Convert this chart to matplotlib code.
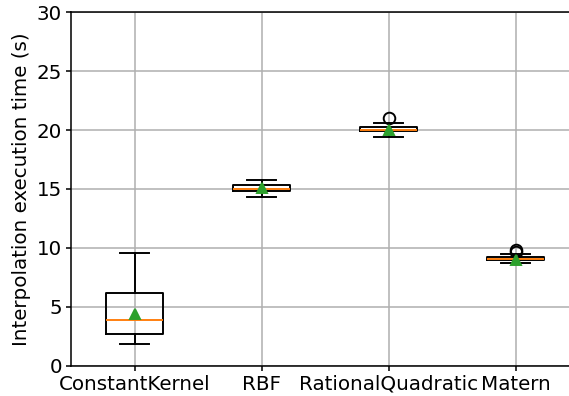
import matplotlib
matplotlib.use("Agg")
import matplotlib.pyplot as plt

# kernels and the box statistics
kernels = ["ConstantKernel", "RBF", "RationalQuadratic", "Matern"]
whislo = [1.83, 14.36, 19.4, 8.72]
q1 = [2.72, 14.86, 19.9, 8.95]
med = [3.92, 15.0, 20.0, 9.05]
q3 = [6.2, 15.36, 20.25, 9.22]
whishi = [9.55, 15.8, 20.6, 9.45]
means = [4.4, 15.1, 20.0, 9.0]
fliers = [[], [], [21.05], [9.78, 9.65]]

stats = []
for i in range(len(kernels)):
    stats.append({
        "label": kernels[i],
        "whislo": whislo[i],
        "q1": q1[i],
        "med": med[i],
        "q3": q3[i],
        "whishi": whishi[i],
        "mean": means[i],
        "fliers": fliers[i],
    })

plt.rcParams["font.size"] = 10.3
dpi = 139
fig = plt.figure(figsize=(569 / dpi, 396 / dpi), dpi=dpi)
# axes run past the right edge like in the reference
ax = fig.add_axes([71 / 569, (396 - 365.7) / 396, 508 / 569, 353.4 / 396])

ax.bxp(stats, showmeans=True, meanprops=dict(markersize=5.5))
ax.set_ylim(0, 30)
ax.set_xlim(0.5, 4.5)
ax.grid(True)
ax.spines["right"].set_visible(False)
ax.tick_params(length=2.6, pad=2)
ax.set_ylabel("Interpolation execution time (s)", labelpad=3)

fig.savefig("out.png", dpi=dpi)
